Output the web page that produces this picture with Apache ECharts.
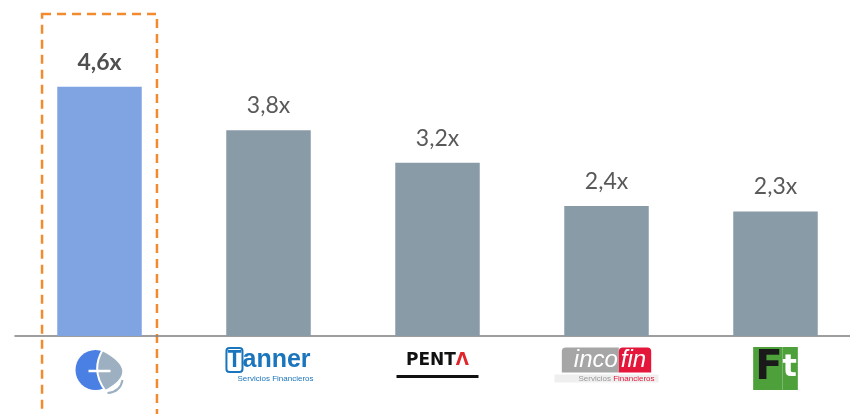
<!DOCTYPE html>
<html>
<head>
<meta charset="utf-8">
<script src="https://cdn.jsdelivr.net/npm/echarts@6/dist/echarts.min.js"></script>
<style>
  html, body { margin: 0; padding: 0; background: #fff; }
  #chart { width: 850px; height: 414px; }
</style>
</head>
<body>
<div id="chart"></div>
<script>
const categories = ['Empresa', 'Tanner', 'Penta', 'Incofin', 'Factotal']
const values = [4.6, 3.8, 3.2, 2.4, 2.3]
const highlight = 0

const blueBar = '#7FA4E1'
const greyBar = '#8A9BA8'
const labelColor = '#595959'

// logo of the highlighted company (no network, so inline svg)
const logoSvg =
  '<svg xmlns="http://www.w3.org/2000/svg" width="50" height="48" viewBox="0 0 50 48">' +
  '<circle cx="21" cy="23" r="20" fill="#4A7FE3"/>' +
  '<path d="M28 3 Q16 24 31 44 Q68 24 28 3 Z" fill="#9DB0C2" stroke="#fff" stroke-width="2"/>' +
  '<path d="M48 33 Q46 45 33 46" stroke="#9DB0C2" stroke-width="2" fill="none"/>' +
  '<line x1="14" y1="24" x2="36" y2="24" stroke="#fff" stroke-width="2.5"/>' +
  '</svg>'
const logoUri = 'data:image/svg+xml;charset=utf-8,' + encodeURIComponent(logoSvg)

const logoText = {
  Empresa: '{logo|}',
  Tanner: '{tT|T}{tA|anner}\n{tS|Servicios Financieros}',
  Penta: '{pe|PENT}{pa|Λ}\n{pl|}',
  Incofin: '{iA|inco}{iB|fin}\n{iC|Servicios }{iD|Financieros}',
  Factotal: '{fF|F}{fT|t}',
}

const chart = echarts.init(document.getElementById('chart'))

chart.setOption({
  animation: false,
  grid: { left: 15, width: 845, top: 11, bottom: 78, outerBoundsMode: 'none', containLabel: false },
  xAxis: {
    type: 'category',
    data: categories,
    axisLine: { lineStyle: { color: '#7f7f7f', width: 1.5 } },
    axisTick: { length: 6, lineStyle: { color: '#7f7f7f', width: 1.5 } },
    axisLabel: {
      margin: 11,
      interval: 0,
      formatter: v => logoText[v],
      rich: {
        logo: { width: 50, height: 48, backgroundColor: { image: logoUri } },
        tT: {
          fontFamily: 'Liberation Sans', fontWeight: 'bold', fontSize: 23, color: '#1B75BC',
          borderColor: '#1B75BC', borderWidth: 2, borderRadius: 3, padding: [1, 1, 0, 1], lineHeight: 26,
        },
        tA: { fontFamily: 'Liberation Sans', fontWeight: 'bold', fontSize: 25, color: '#1B75BC', lineHeight: 26 },
        tS: { fontFamily: 'Liberation Sans', fontSize: 8, color: '#1B75BC', lineHeight: 12, padding: [0, 0, 0, 14] },
        pe: { fontFamily: 'DejaVu Sans', fontWeight: 'bold', fontSize: 17, color: '#111', lineHeight: 28 },
        pa: { fontFamily: 'DejaVu Sans', fontWeight: 'bold', fontSize: 17, color: '#E0262C', lineHeight: 28 },
        pl: { backgroundColor: '#111', width: 82, height: 3, lineHeight: 3 },
        iA: {
          fontFamily: 'Liberation Sans', fontStyle: 'italic', fontSize: 24, color: '#fff',
          backgroundColor: '#A6A6A6', padding: [1, 1, 0, 12], borderRadius: [4, 0, 0, 0], lineHeight: 26,
        },
        iB: {
          fontFamily: 'Liberation Sans', fontStyle: 'italic', fontSize: 24, color: '#fff',
          backgroundColor: '#E4173A', padding: [1, 5, 0, 2], borderRadius: [4, 4, 0, 0], lineHeight: 26,
        },
        iC: {
          fontFamily: 'Liberation Sans', fontSize: 8, color: '#999', lineHeight: 11,
          backgroundColor: '#EFEFEF', padding: [0, 0, 0, 24],
        },
        iD: {
          fontFamily: 'Liberation Sans', fontSize: 8, color: '#E4173A', lineHeight: 11,
          backgroundColor: '#EFEFEF', padding: [0, 4, 0, 0],
        },
        fF: {
          fontFamily: 'DejaVu Sans', fontWeight: 'bold', fontSize: 40, color: '#1a1a1a',
          backgroundColor: '#4EA03B', height: 43, lineHeight: 43, padding: [0, 0, 0, 2],
        },
        fT: {
          fontFamily: 'DejaVu Sans', fontWeight: 'bold', fontSize: 30, color: '#fff',
          backgroundColor: '#4EA03B', height: 43, lineHeight: 43, padding: [0, 1, 0, 0],
        },
      },
    },
  },
  yAxis: { type: 'value', min: 0, max: 6, show: false, splitLine: { show: false } },
  series: [
    {
      type: 'bar',
      barWidth: '50%',
      data: values.map((v, i) => ({
        value: v,
        itemStyle: { color: i === highlight ? blueBar : greyBar },
        label: i === highlight ? { fontWeight: 'bold', color: '#4f4f4f' } : {},
      })),
      label: {
        show: true,
        position: 'top',
        distance: 13,
        fontFamily: 'Lato',
        fontSize: 23,
        color: labelColor,
        formatter: p => String(p.value).replace('.', ',') + 'x',
      },
    },
  ],
})

// dashed orange box round the highlighted category
const cx = chart.convertToPixel({ xAxisIndex: 0 }, categories[highlight])
const step = chart.convertToPixel({ xAxisIndex: 0 }, categories[1]) - cx
const half = step * 0.34
chart.setOption({
  graphic: [
    {
      type: 'rect',
      shape: { x: cx - half, y: 14, width: half * 2, height: 420 },
      style: { fill: 'none', stroke: '#F28A2E', lineWidth: 2.5, lineDash: [9, 6] },
      silent: true,
    },
  ],
})
</script>
</body>
</html>
